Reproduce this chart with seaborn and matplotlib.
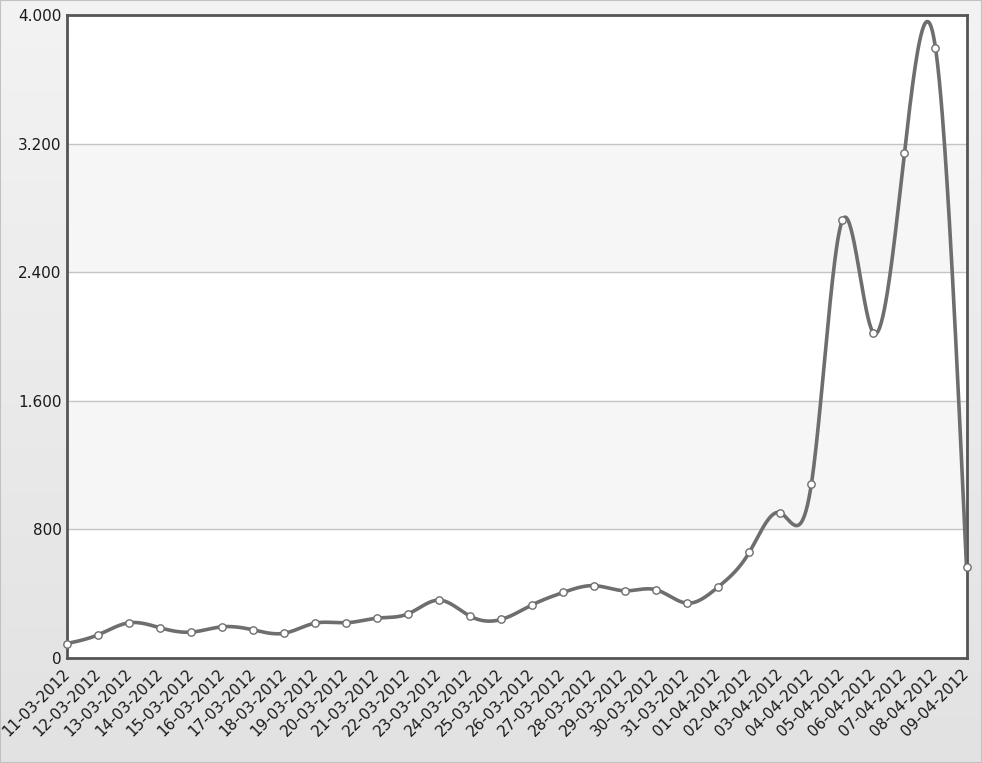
import numpy as np
import pandas as pd
import seaborn as sns
import matplotlib.pyplot as plt
from matplotlib.colors import LinearSegmentedColormap
from matplotlib.patches import Rectangle
from matplotlib.ticker import FuncFormatter

# Dados
datas = ['11-03-2012', '12-03-2012', '13-03-2012', '14-03-2012', '15-03-2012',
         '16-03-2012', '17-03-2012', '18-03-2012', '19-03-2012', '20-03-2012',
         '21-03-2012', '22-03-2012', '23-03-2012', '24-03-2012', '25-03-2012',
         '26-03-2012', '27-03-2012', '28-03-2012', '29-03-2012', '30-03-2012',
         '31-03-2012', '01-04-2012', '02-04-2012', '03-04-2012', '04-04-2012',
         '05-04-2012', '06-04-2012', '07-04-2012', '08-04-2012', '09-04-2012']
valores = [90, 144, 219, 188, 161, 194, 175, 154, 217, 219,
           248, 275, 360, 260, 240, 331, 408, 450, 418, 424,
           341, 443, 658, 903, 1084, 2724, 2022, 3143, 3796, 565]
y_ticks = [0, 800, 1600, 2400, 3200, 4000]

dados = pd.DataFrame({'pos': np.arange(len(valores)), 'valor': valores})


# Spline cúbica natural para suavizar a linha (espaçamento uniforme)
def spline_natural(y, passos=40):
    y = np.asarray(y, dtype=float)
    n = len(y)
    A = np.zeros((n, n))
    b = np.zeros(n)
    A[0, 0] = A[-1, -1] = 1
    for i in range(1, n - 1):
        A[i, i - 1], A[i, i], A[i, i + 1] = 1, 4, 1
        b[i] = 6 * (y[i + 1] - 2 * y[i] + y[i - 1])
    M = np.linalg.solve(A, b)
    xs, ys = [], []
    for i in range(n - 1):
        t = np.linspace(0, 1, passos, endpoint=False)
        s = ((1 - t) * y[i] + t * y[i + 1]
             + ((1 - t) ** 3 - (1 - t)) * M[i] / 6 + (t ** 3 - t) * M[i + 1] / 6)
        xs.extend(i + t)
        ys.extend(s)
    xs.append(n - 1)
    ys.append(y[-1])
    return np.array(xs), np.array(ys)


curva_x, curva_y = spline_natural(dados['valor'])

sns.set_style('white')
plt.rcParams['font.family'] = ['DejaVu Sans']

fig = plt.figure(figsize=(9.82, 7.63), dpi=100)

# fundo em degradê
fundo = fig.add_axes([0, 0, 1, 1], zorder=-10)
grad = np.linspace(0, 1, 256).reshape(-1, 1)
cmap = LinearSegmentedColormap.from_list('fundo', ['#f3f3f3', '#e2e2e2'])
fundo.imshow(grad, aspect='auto', cmap=cmap, extent=[0, 1, 0, 1])
fundo.set_xlim(0, 1)
fundo.set_ylim(0, 1)
fundo.axis('off')
fig.patches.append(Rectangle((0, 0), 1, 1, transform=fig.transFigure,
                             fill=False, edgecolor='#c2c2c2', lw=1.5))

ax = fig.add_axes([67 / 982, 105 / 763, 899.5 / 982, 643 / 763])
ax.set_facecolor('white')

# faixas alternadas
ax.axhspan(800, 1600, color='#f6f6f6', zorder=0, lw=0)
ax.axhspan(2400, 3200, color='#f6f6f6', zorder=0, lw=0)

sns.lineplot(x=curva_x, y=curva_y, ax=ax, color='#6e6e6e', lw=2.6, zorder=3)
sns.scatterplot(data=dados, x='pos', y='valor', ax=ax, s=28, color='white',
                edgecolor='#6e6e6e', linewidth=1, zorder=5, clip_on=False)

ax.set_xlim(0, len(valores) - 1)
ax.set_ylim(0, 4000)
ax.set_yticks(y_ticks)
ax.yaxis.set_major_formatter(FuncFormatter(lambda v, p: f'{int(v):,}'.replace(',', '.')))
ax.set_xticks(dados['pos'])
ax.set_xticklabels(datas, rotation=45, ha='right', va='center', rotation_mode='anchor')
ax.yaxis.grid(True, color='#c4c4c4', lw=1)
ax.set_axisbelow(True)
ax.tick_params(length=0, labelsize=11, labelcolor='#1a1a1a', pad=4)
ax.tick_params(axis='x', pad=9.5)
ax.set_xlabel('')
ax.set_ylabel('')

for lado in ax.spines.values():
    lado.set_color('#555555')
    lado.set_linewidth(2)

plt.savefig('out.png', dpi=100)
